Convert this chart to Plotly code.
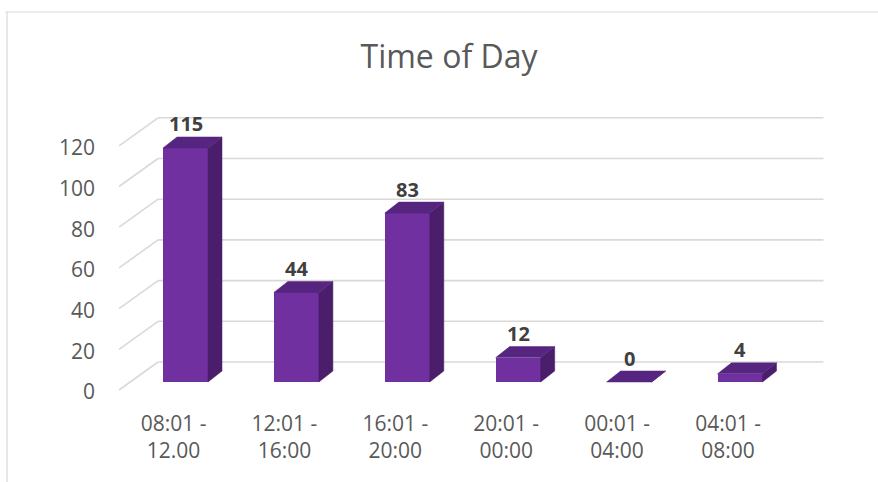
import plotly.graph_objects as go

# ---------------- data ----------------
categories = ["08:01 -<br>12.00", "12:01 -<br>16:00", "16:01 -<br>20:00",
              "20:01 -<br>00:00", "00:01 -<br>04:00", "04:01 -<br>08:00"]
counts = [115, 44, 83, 12, 0, 4]
y_ticks = [0, 20, 40, 60, 80, 100, 120]
title_text = "Time of Day"

# ---------------- geometry / style ----------------
W_FIG, H_FIG = 878, 482
L, R, T, B = 100, 840, 90, 400          # plot area in pixels
XU = 110.9                               # px per category step
YU = 2.035                               # px per value unit
X0_PX = 185.5                            # pixel of first category centre
Y0_PX = 382.0                            # pixel of value 0 on the bar plane
x_range = [(L - X0_PX) / XU, (R - X0_PX) / XU]
y_range = [(Y0_PX - B) / YU, (Y0_PX - T) / YU]

def ddx(px):
    return px / XU

def ddy(px):  # px measured downward on screen
    return -px / YU

FRONT = (-11, 8)      # front plane offset from bar plane (px)
BACK = (28, -20)      # back wall offset from bar plane (px)
DEPTH = (14, -11)     # bar depth (px)
BAR_W = 45 / XU

FRONT_COL = "#7030A0"
TOP_COL = "#56257F"
SIDE_COL = "#4A1E6A"
GRID_COL = "#D9D9D9"
TEXT_COL = "#595959"
LABEL_COL = "#404040"
FONT = "Open Sans"

n = len(categories)
idx = list(range(n))

fig = go.Figure()

# front faces
fig.add_trace(go.Bar(x=idx, y=counts, width=BAR_W,
                     marker=dict(color=FRONT_COL, line=dict(width=0)),
                     hoverinfo="skip", showlegend=False))

# side and top faces
sx, sy, tx, ty = [], [], [], []
for i, v in zip(idx, counts):
    x0 = i - BAR_W / 2
    x1 = i + BAR_W / 2
    ox, oy = ddx(DEPTH[0]), ddy(DEPTH[1])
    sx += [x1, x1, x1 + ox, x1 + ox, x1, None]
    sy += [0, v, v + oy, oy, 0, None]
    tx += [x0, x1, x1 + ox, x0 + ox, x0, None]
    ty += [v, v, v + oy, v + oy, v, None]

fig.add_trace(go.Scatter(x=sx, y=sy, mode="lines", fill="toself",
                         fillcolor=SIDE_COL, line=dict(color=SIDE_COL, width=0.5),
                         hoverinfo="skip", showlegend=False))
fig.add_trace(go.Scatter(x=tx, y=ty, mode="lines", fill="toself",
                         fillcolor=TOP_COL, line=dict(color=TOP_COL, width=0.5),
                         hoverinfo="skip", showlegend=False))

# gridlines on back wall and left side wall
shapes = []
left_edge = -0.5
right_edge = n - 0.5
for t in y_ticks:
    yb = t + ddy(BACK[1])
    shapes.append(dict(type="line", xref="x", yref="y", layer="below",
                       x0=left_edge + ddx(BACK[0]), x1=right_edge + ddx(BACK[0]),
                       y0=yb, y1=yb, line=dict(color=GRID_COL, width=1.6)))
    shapes.append(dict(type="line", xref="x", yref="y", layer="below",
                       x0=left_edge + ddx(FRONT[0]), y0=t + ddy(FRONT[1]),
                       x1=left_edge + ddx(BACK[0]), y1=yb,
                       line=dict(color=GRID_COL, width=1.6)))

# chart frame (top and left border)
def px2paper_x(px):
    return (px - L) / (R - L)

def px2paper_y(py):
    return (B - py) / (B - T)

shapes.append(dict(type="line", xref="paper", yref="paper", layer="below",
                   x0=px2paper_x(5), x1=px2paper_x(880),
                   y0=px2paper_y(12), y1=px2paper_y(12),
                   line=dict(color=GRID_COL, width=1.2)))
shapes.append(dict(type="line", xref="paper", yref="paper", layer="below",
                   x0=px2paper_x(7), x1=px2paper_x(7),
                   y0=px2paper_y(12), y1=px2paper_y(490),
                   line=dict(color=GRID_COL, width=1.2)))

# data labels
annotations = []
for i, v in zip(idx, counts):
    annotations.append(dict(x=i, y=v, xref="x", yref="y", text=str(v),
                            showarrow=False, yshift=24, yanchor="middle",
                            font=dict(family=FONT, size=20, color=LABEL_COL,
                                      weight="bold")))

fig.update_layout(
    width=W_FIG, height=H_FIG,
    margin=dict(l=L, r=W_FIG - R, t=T, b=H_FIG - B, pad=0),
    paper_bgcolor="white", plot_bgcolor="white",
    title=dict(text=title_text, x=449 / W_FIG, y=1 - 57 / H_FIG,
               xanchor="center", yanchor="middle",
               font=dict(family=FONT, size=32, color=TEXT_COL)),
    shapes=shapes, annotations=annotations,
    bargap=0,
    xaxis=dict(range=x_range, tickmode="array", tickvals=idx, ticktext=categories,
               showgrid=False, zeroline=False, showline=False, ticks="",
               ticklabelshift=-12, ticklabelstandoff=9,
               tickfont=dict(family=FONT, size=21, color=TEXT_COL)),
    yaxis=dict(range=y_range, tickmode="array", tickvals=y_ticks,
               showgrid=False, zeroline=False, showline=False, ticks="",
               ticklabelshift=10, ticklabelstandoff=4,
               tickfont=dict(family=FONT, size=21, color=TEXT_COL)),
    showlegend=False,
)

fig.write_html("out.html", config={"displayModeBar": False},
               post_script="document.body.style.margin='0';")
